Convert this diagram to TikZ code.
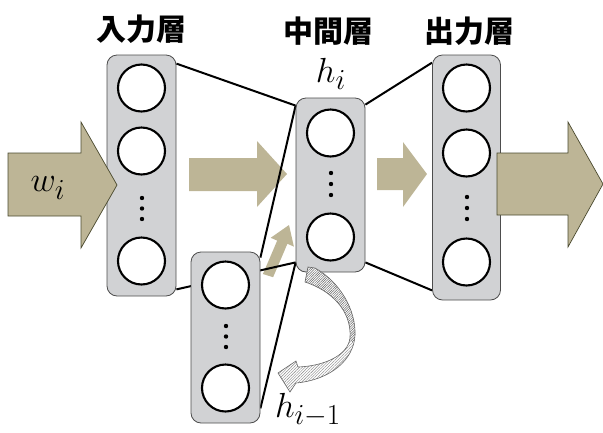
\documentclass[tikz,border=0pt]{standalone}
\usepackage{fontspec}
\newfontfamily\jp{Noto Sans CJK JP}
\usetikzlibrary{calc,patterns.meta}
\definecolor{boxfill}{HTML}{D1D2D4}
\definecolor{boxline}{HTML}{4D4D4D}
\definecolor{tan}{HTML}{BDB596}
\definecolor{tanline}{HTML}{4B4A2F}
\pgfdeclarelayer{bg}
\pgfdeclarelayer{links}
\pgfsetlayers{bg,links,main}
\def\recurpath{(305,282) -- (308,267) -- (315,268)
  .. controls (340,282) and (356,310) .. (355,335)
  .. controls (354,360) and (330,380) .. (296,383)
  -- (290,392) -- (278,373) -- (296,361) -- (298,367)
  .. controls (325,366) and (348,355) .. (350,338)
  .. controls (352,310) and (330,290) .. (305,282) -- cycle}
\begin{document}
\begin{tikzpicture}[x=1pt,y=-1pt,
 layerbox/.style={draw=boxline,fill=boxfill,rounded corners=10pt,line width=0.8pt,minimum width=69pt,inner sep=0pt},
 unit/.style={circle,draw=black,fill=white,line width=2.1pt,minimum size=47pt,inner sep=0pt},
 dotn/.style={circle,fill=black,minimum size=4.4pt,inner sep=0pt},
 link/.style={line width=2pt,draw=black},
 fatarrow/.style={fill=tan,draw=tanline,line width=0.7pt,line join=miter},
 softarrow/.style={fill=tan},
 hatchlight/.style={pattern={Lines[angle=45,distance=2pt,line width=0.4pt]},pattern color=black!50},
 hatchdark/.style={pattern={Lines[angle=45,distance=1.7pt,line width=0.5pt]},pattern color=black!60},
 recurline/.style={draw=black!60,line width=0.6pt},
 title/.style={font=\jp\bfseries\fontsize{30}{34}\selectfont},
 mathlab/.style={font=\Huge,scale=1.4,inner sep=0pt}]
\useasboundingbox (0,0) rectangle (603,432);

% titles
\node[title] (t1) at (141,29) {入力層};
\node[title] (t2) at (328,31) {中間層};
\node[title] (t3) at (469,31) {出力層};

% layer boxes
\node[layerbox,minimum height=241pt] (in) at (141.5,175.5) {};
\node[layerbox,minimum height=174pt] (mid) at (330.5,185) {};
\node[layerbox,minimum height=171pt] (ctx) at (225.5,337.5) {};
\node[layerbox,minimum width=68pt,minimum height=245pt] (out) at (466.5,177.5) {};

% units
\node[unit] (i1) at (141.5,88) {};
\node[unit] (i2) at (141.5,151) {};
\node[unit] (i3) at (141.5,261) {};
\node[dotn] (id1) at (142,198) {};
\node[dotn] (id2) at (142,208.5) {};
\node[dotn] (id3) at (142,219) {};

\node[unit] (m1) at (330.5,133) {};
\node[unit] (m2) at (330.5,237) {};
\node[dotn] (md1) at (331,173) {};
\node[dotn] (md2) at (331,184) {};
\node[dotn] (md3) at (331,195) {};

\node[unit] (c1) at (225.5,285) {};
\node[unit] (c2) at (225.5,388) {};
\node[dotn] (cd1) at (226,326) {};
\node[dotn] (cd2) at (226,336.5) {};
\node[dotn] (cd3) at (226,347) {};

\node[unit] (o1) at (466.5,88) {};
\node[unit] (o2) at (466.5,153) {};
\node[unit] (o3) at (466.5,262) {};
\node[dotn] (od1) at (467,197) {};
\node[dotn] (od2) at (467,208) {};
\node[dotn] (od3) at (467,219) {};

% links
\begin{pgfonlayer}{links}
\draw[link] ([yshift=-9pt]in.north east) -- ([yshift=-8pt]mid.north west);
\draw[link] ([yshift=7pt]in.south east) -- ([yshift=10pt]mid.south west);
\draw[link] ([yshift=-6pt]ctx.north east) -- ([yshift=-8pt]mid.north west);
\draw[link] ([yshift=15pt]ctx.south east) -- ([yshift=10pt]mid.south west);
\draw[link] ([yshift=-7pt]mid.north east) -- ([yshift=-8pt]out.north west);
\draw[link] ([yshift=10pt]mid.south east) -- ([yshift=10pt]out.south west);
\end{pgfonlayer}

% soft arrows (behind links)
\begin{pgfonlayer}{bg}
\fill[softarrow] (189,158) -- (257,158) -- (257,141) -- (287,174) -- (257,207) -- (257,191) -- (189,191) -- cycle;
\fill[softarrow] (377,158) -- (403,158) -- (403,142) -- (427,174) -- (403,207) -- (403,190) -- (377,190) -- cycle;
\fill[softarrow] (262.9,274) -- (277.2,240.6) -- (270.7,237.8) -- (289,225) -- (293.9,246.6) -- (287.4,243.8) -- (273.1,277.2) -- cycle;
\end{pgfonlayer}

% fat arrows
\draw[fatarrow] (8,153) -- (81,153) -- (81,122) -- (117,185) -- (81,248) -- (81,216) -- (8,216) -- cycle;
\draw[fatarrow] (497,153) -- (568,153) -- (568,122) -- (603,184) -- (568,247) -- (568,215) -- (497,215) -- cycle;

% recurrent arrow
\fill[white] \recurpath;
\fill[hatchlight] \recurpath;
\begin{scope}
\clip (280,260) rectangle (370,341);
\fill[white] \recurpath;
\fill[hatchdark] \recurpath;
\end{scope}
\draw[recurline] \recurpath;

% labels
\node[mathlab] (lw) at (48,188) {$w_i$};
\node[mathlab] (lh) at (331,74) {$h_i$};
\node[mathlab] (lh1) at (308,410) {$h_{i-1}$};
\end{tikzpicture}
\end{document}
